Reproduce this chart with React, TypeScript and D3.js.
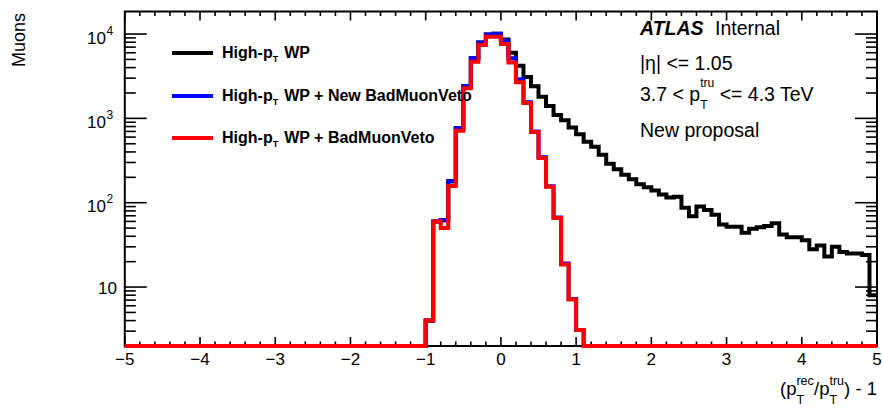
import React, { useEffect, useRef } from 'react';
import * as d3 from 'd3';

// binning of the histogram: 100 bins of 0.1 from -5 to 5
const binLow = -5;
const binWidth = 0.1;
const nBins = 100;

// first non-empty bin starts at -1.0, everything else is 0
const firstFilled = -1.0;

// bins -1.0 .. 4.9
const blackCounts = [
    4, 60, 62, 180, 770, 2400, 5150, 7950, 9900, 10100,
    8600, 6000, 4200, 3100, 2400, 1800, 1400, 1100, 950, 780,
    650, 530, 460, 370, 290, 250, 215, 190, 165, 152,
    140, 125, 115, 118, 87, 69, 90, 82, 72, 55,
    52, 52, 44, 49, 51, 53, 57, 42, 39, 39,
    36, 28, 31, 23, 30, 26, 25, 25, 24, 8,
];

// bins -1.0 .. 1.0
const blueCounts = [
    4, 60, 62, 180, 770, 2400, 5150, 7950, 9900, 10100,
    8400, 5150, 2900, 1550, 700, 345, 157, 67, 19, 7.2, 3.1,
];

const redCounts = [
    4, 60, 50, 158, 711, 2280, 4700, 7400, 9300, 9300,
    7600, 4600, 2680, 1520, 690, 340, 155, 66, 18.5, 7.1, 3.1,
];

const legendLabels = [
    { main: 'High-p', rest: 'WP', color: '#000000' },
    { main: 'High-p', rest: 'WP + New BadMuonVeto', color: '#0000ff' },
    { main: 'High-p', rest: 'WP + BadMuonVeto', color: '#ff0000' },
];

const xMajorTicks = [-5, -4, -3, -2, -1, 0, 1, 2, 3, 4, 5];
const yDecades = [10, 100, 1000, 10000];
const yDomain = [2, 18500];

const FONT = '"Liberation Sans", Arial, Helvetica, sans-serif';

const W = 883;
const H = 409;

const App = () => {
    const svgRef = useRef<SVGSVGElement | null>(null);

    useEffect(() => {
        if (!svgRef.current) return;
        const svg = d3.select(svgRef.current);
        svg.selectAll('*').remove();

        const left = 124.8, right = 877, top = 11.5, bottom = 346;

        const x = d3.scaleLinear().domain([-5, 5]).range([left, right]);
        const y = d3.scaleLog().domain(yDomain).range([bottom, top]);

        const g = svg.append('g');

        // frame
        g.append('rect')
            .attr('x', left).attr('y', top)
            .attr('width', right - left).attr('height', bottom - top)
            .attr('fill', 'none').attr('stroke', '#000').attr('stroke-width', 2);

        // ticks
        const xMinor = d3.range(-5, 5.0001, 0.2).filter(v => Math.abs(v - Math.round(v)) > 1e-6);
        const ticks = g.append('g').attr('stroke', '#000').attr('stroke-width', 1.6);
        xMajorTicks.forEach(v => {
            ticks.append('line').attr('x1', x(v)).attr('x2', x(v)).attr('y1', bottom).attr('y2', bottom - 9);
            ticks.append('line').attr('x1', x(v)).attr('x2', x(v)).attr('y1', top).attr('y2', top + 9);
        });
        xMinor.forEach(v => {
            ticks.append('line').attr('x1', x(v)).attr('x2', x(v)).attr('y1', bottom).attr('y2', bottom - 4.5);
            ticks.append('line').attr('x1', x(v)).attr('x2', x(v)).attr('y1', top).attr('y2', top + 4.5);
        });

        const yMinor: number[] = [];
        [1, 10, 100, 1000].forEach(d => {
            for (let k = 2; k <= 9; k++) {
                const v = d * k;
                if (v > yDomain[0] && v < yDomain[1]) yMinor.push(v);
            }
        });
        yDecades.forEach(v => {
            ticks.append('line').attr('x1', left).attr('x2', left + 22).attr('y1', y(v)).attr('y2', y(v));
            ticks.append('line').attr('x1', right).attr('x2', right - 22).attr('y1', y(v)).attr('y2', y(v));
        });
        yMinor.forEach(v => {
            ticks.append('line').attr('x1', left).attr('x2', left + 11).attr('y1', y(v)).attr('y2', y(v));
            ticks.append('line').attr('x1', right).attr('x2', right - 11).attr('y1', y(v)).attr('y2', y(v));
        });

        // tick labels
        xMajorTicks.forEach(v => {
            g.append('text')
                .attr('x', x(v)).attr('y', 365)
                .attr('text-anchor', 'middle')
                .attr('font-family', FONT).attr('font-size', 17)
                .text(v < 0 ? `\u2212${Math.abs(v)}` : `${v}`);
        });
        yDecades.forEach(v => {
            const e = Math.round(Math.log10(v));
            if (e === 1) {
                g.append('text')
                    .attr('x', 117).attr('y', y(v) + 7)
                    .attr('text-anchor', 'end')
                    .attr('font-family', FONT).attr('font-size', 17)
                    .text('10');
            } else {
                g.append('text')
                    .attr('x', 106).attr('y', y(v) + 9.5)
                    .attr('text-anchor', 'end')
                    .attr('font-family', FONT).attr('font-size', 17)
                    .text('10');
                g.append('text')
                    .attr('x', 106.5).attr('y', y(v) + 0.5)
                    .attr('font-family', FONT).attr('font-size', 12)
                    .text(`${e}`);
            }
        });

        // histograms
        const fullBins = (counts: number[]) => {
            const start = Math.round((firstFilled - binLow) / binWidth);
            const out: number[] = new Array(nBins).fill(0);
            counts.forEach((c, i) => { out[start + i] = c; });
            return out;
        };
        const histPath = (counts: number[]) => {
            const bins = fullBins(counts);
            const pts = bins.map((c, i) => [binLow + i * binWidth, c] as [number, number]);
            pts.push([binLow + nBins * binWidth, bins[nBins - 1]]);
            return d3.line<[number, number]>()
                .x(d => x(d[0]))
                .y(d => y(Math.max(d[1], yDomain[0])))
                .curve(d3.curveStepAfter)(pts);
        };

        [
            { counts: blackCounts, color: '#000000' },
            { counts: blueCounts, color: '#0000ff' },
            { counts: redCounts, color: '#ff0000' },
        ].forEach(h => {
            g.append('path')
                .attr('d', histPath(h.counts))
                .attr('fill', 'none')
                .attr('stroke', h.color)
                .attr('stroke-width', 4)
                .attr('stroke-linejoin', 'miter');
        });

        // legend
        const legendY = [53, 96, 138];
        legendLabels.forEach((l, i) => {
            g.append('line')
                .attr('x1', 172).attr('x2', 213)
                .attr('y1', legendY[i]).attr('y2', legendY[i])
                .attr('stroke', l.color).attr('stroke-width', 4);
            const t = g.append('text')
                .attr('x', 222).attr('y', legendY[i] + 5)
                .attr('font-family', FONT).attr('font-size', 16).attr('font-weight', 'bold');
            t.append('tspan').text(l.main);
            t.append('tspan').attr('font-size', 9).attr('dy', 3.5).text('T');
            t.append('tspan').attr('dx', 6).attr('dy', -3.5).text(l.rest);
        });

        // ATLAS label block
        const tx = 640;
        g.append('text')
            .attr('x', tx).attr('y', 35)
            .attr('font-family', FONT).attr('font-size', 19.5)
            .attr('font-weight', 'bold').attr('font-style', 'italic')
            .text('ATLAS');
        g.append('text')
            .attr('x', 715).attr('y', 35)
            .attr('font-family', FONT).attr('font-size', 19.5)
            .text('Internal');
        g.append('text')
            .attr('x', tx).attr('y', 70)
            .attr('font-family', FONT).attr('font-size', 19.5)
            .text('|\u03b7| <= 1.05');
        const pt = g.append('text')
            .attr('x', tx).attr('y', 101)
            .attr('font-family', FONT).attr('font-size', 19.5);
        pt.append('tspan').text('3.7 < p');
        pt.append('tspan').attr('font-size', 12).attr('dy', -14).text('tru');
        pt.append('tspan').attr('font-size', 12).attr('dx', -14).attr('dy', 22).text('T');
        pt.append('tspan').attr('dx', 6.7).attr('dy', -8).text(' <= 4.3 TeV');
        g.append('text')
            .attr('x', tx).attr('y', 137)
            .attr('font-family', FONT).attr('font-size', 19.5)
            .text('New proposal');

        // axis titles
        g.append('text')
            .attr('transform', 'translate(25,13) rotate(-90)')
            .attr('text-anchor', 'end')
            .attr('font-family', FONT).attr('font-size', 18)
            .text('Muons');

        const xl = g.append('text')
            .attr('x', 877).attr('y', 395)
            .attr('text-anchor', 'end')
            .attr('font-family', FONT).attr('font-size', 18.5);
        xl.append('tspan').text('(p');
        xl.append('tspan').attr('font-size', 12.5).attr('dy', -10).text('rec');
        xl.append('tspan').attr('font-size', 12.5).attr('dx', -17.4).attr('dy', 19).text('T');
        xl.append('tspan').attr('dx', 10).attr('dy', -9).text('/p');
        xl.append('tspan').attr('font-size', 12.5).attr('dy', -10).text('tru');
        xl.append('tspan').attr('font-size', 12.5).attr('dx', -14.6).attr('dy', 19).text('T');
        xl.append('tspan').attr('dx', 7).attr('dy', -9).text(') - 1');
    }, []);

    return (
        <svg
            ref={svgRef}
            width={W}
            height={H}
            style={{ position: 'absolute', left: 0, top: 0, background: '#fff', display: 'block' }}
        />
    );
};

export default App;
